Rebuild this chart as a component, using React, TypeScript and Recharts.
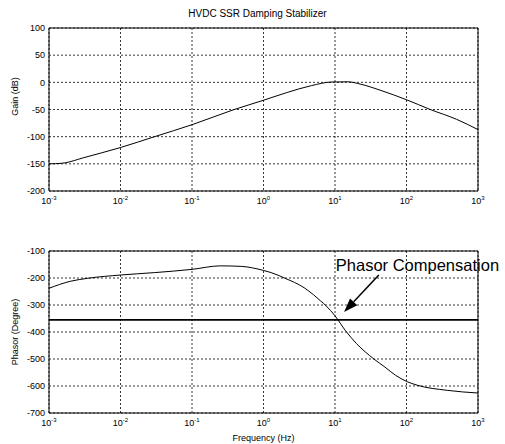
import React from 'react';
import { LineChart, Line, XAxis, YAxis, CartesianGrid, ReferenceArea, ReferenceLine } from 'recharts';

const FONT = '"Liberation Sans", Arial, Helvetica, sans-serif';

// axis ticks
const freqTicks = [0.001, 0.01, 0.1, 1, 10, 100, 1000];
const gainTicks = [-200, -150, -100, -50, 0, 50, 100];
const phaseTicks = [-700, -600, -500, -400, -300, -200, -100];

// gain curve
const gainFreq = [0.001, 0.0015, 0.0017, 0.003, 0.01, 0.03, 0.1, 0.39, 1, 2.1, 4.7, 8.8, 15, 23, 44, 100, 215, 500, 1000];
const gainDb = [-150, -149, -148, -139, -120, -100, -78, -50, -33, -19, -6, 0.5, 1, -3.5, -15, -32, -50, -68, -87];

// phase curve
const phaseFreq = [0.001, 0.002, 0.0035, 0.01, 0.03, 0.1, 0.25, 0.49, 1, 1.28, 2, 3.7, 5, 6.3, 7.5, 10, 14, 20, 35, 50, 70, 100, 141, 370, 1000];
const phaseDeg = [-238, -212, -201, -189, -180, -168, -155, -157, -172, -180, -201, -236, -262, -285, -303, -340, -395, -443, -500, -530, -560, -583, -597, -616, -626];

const compensationDeg = -355;
const annotation = 'Phasor Compensation';
const arrowFrom = { f: 41, deg: -189 };
const arrowTo = { f: 13.4, deg: -326 };

const gainData = gainFreq.map((f, i) => ({ f, gain: gainDb[i] }));
const phaseData = phaseFreq.map((f, i) => ({ f, phase: phaseDeg[i] }));

const PowerTick = ({ x, y, payload }: any) => {
  const exp = Math.round(Math.log10(payload.value));
  return (
    <text x={x} y={y} textAnchor="middle" fontSize={9} fill="#000" fontFamily={FONT}>
      <tspan dy={8}>10</tspan>
      <tspan dy={-4} fontSize={6}>{exp}</tspan>
    </text>
  );
};

const YLabel = ({ viewBox, value, shift }: any) => {
  const cx = 18;
  const cy = viewBox.y + viewBox.height / 2 + (shift || 0);
  return (
    <text x={cx} y={cy} transform={`rotate(-90 ${cx} ${cy})`} textAnchor="middle" fontSize={9}
      fill="#000" fontFamily={FONT}>
      {value}
    </text>
  );
};

const XLabel = ({ viewBox, value }: any) => (
  <text x={viewBox.x + viewBox.width / 2} y={viewBox.y + 28} textAnchor="middle" fontSize={9}
    fill="#000" fontFamily={FONT}>
    {value}
  </text>
);

const Arrow = (props: any) => {
  const { x1, y1, x2, y2 } = props;
  const ang = Math.atan2(y2 - y1, x2 - x1);
  const len = 14;
  const half = 5;
  const bx = x2 - len * Math.cos(ang);
  const by = y2 - len * Math.sin(ang);
  const px = -Math.sin(ang) * half;
  const py = Math.cos(ang) * half;
  return (
    <g>
      <line x1={x1} y1={y1} x2={bx} y2={by} stroke="#000" strokeWidth={1.5} />
      <polygon points={`${x2},${y2} ${bx + px},${by + py} ${bx - px},${by - py}`} fill="#000" />
      <text x={x1 - 43} y={y1 - 4.5} fontSize={16.5} fill="#000" fontFamily={FONT}>{annotation}</text>
    </g>
  );
};

const yTick = { fontSize: 9, fill: '#000', fontFamily: FONT };

export default function App() {
  return (
    <div style={{ position: 'absolute', left: 0, top: 0, width: 505, height: 444, background: '#fff' }}>
      <div style={{ position: 'absolute', left: 0, top: 8, width: 505, textAlign: 'center', paddingLeft: 10,
        boxSizing: 'border-box', fontFamily: FONT, fontSize: 10, color: '#000' }}>
        HVDC SSR Damping Stabilizer
      </div>
      <div style={{ position: 'absolute', left: 0, top: 0 }}>
        <LineChart width={505} height={220} data={gainData} margin={{ top: 28, right: 27, left: 0, bottom: 0 }}>
          <CartesianGrid stroke="#000" strokeDasharray="2 2" strokeWidth={0.8}
            verticalValues={freqTicks} horizontalValues={gainTicks} />
          <XAxis dataKey="f" type="number" scale="log" domain={[0.001, 1000]} ticks={freqTicks}
            allowDataOverflow height={29} tickLine={false} axisLine={false} tickSize={4} tickMargin={1}
            tick={<PowerTick />} interval={0} />
          <YAxis type="number" domain={[-200, 100]} ticks={gainTicks} width={49} tickLine={false}
            axisLine={false} tickSize={2} tickMargin={2} tick={yTick} interval={0}
            label={<YLabel value="Gain (dB)" shift={-13} />} />
          <ReferenceArea x1={0.001} x2={1000} y1={-200} y2={100} fill="none" stroke="#000" strokeWidth={1} />
          <Line dataKey="gain" type="monotone" stroke="#000" strokeWidth={1} dot={false} isAnimationActive={false} />
        </LineChart>
      </div>
      <div style={{ position: 'absolute', left: 0, top: 220 }}>
        <LineChart width={505} height={224} data={phaseData} margin={{ top: 31, right: 27, left: 0, bottom: 0 }}>
          <CartesianGrid stroke="#000" strokeDasharray="2 2" strokeWidth={0.8}
            verticalValues={freqTicks} horizontalValues={phaseTicks} />
          <XAxis dataKey="f" type="number" scale="log" domain={[0.001, 1000]} ticks={freqTicks}
            allowDataOverflow height={31} tickLine={false} axisLine={false} tickSize={4} tickMargin={1}
            tick={<PowerTick />} interval={0} label={<XLabel value="Frequency (Hz)" />} />
          <YAxis type="number" domain={[-700, -100]} ticks={phaseTicks} width={49} tickLine={false}
            axisLine={false} tickSize={2} tickMargin={2} tick={yTick} interval={0}
            label={<YLabel value="Phasor (Degree)" shift={0} />} />
          <ReferenceArea x1={0.001} x2={1000} y1={-700} y2={-100} fill="none" stroke="#000" strokeWidth={1} />
          <ReferenceLine y={compensationDeg} stroke="#000" strokeWidth={1.8} />
          <Line dataKey="phase" type="monotone" stroke="#000" strokeWidth={1} dot={false} isAnimationActive={false} />
          <ReferenceLine segment={[{ x: arrowFrom.f, y: arrowFrom.deg }, { x: arrowTo.f, y: arrowTo.deg }]}
            shape={<Arrow />} ifOverflow="visible" />
        </LineChart>
      </div>
    </div>
  );
}
